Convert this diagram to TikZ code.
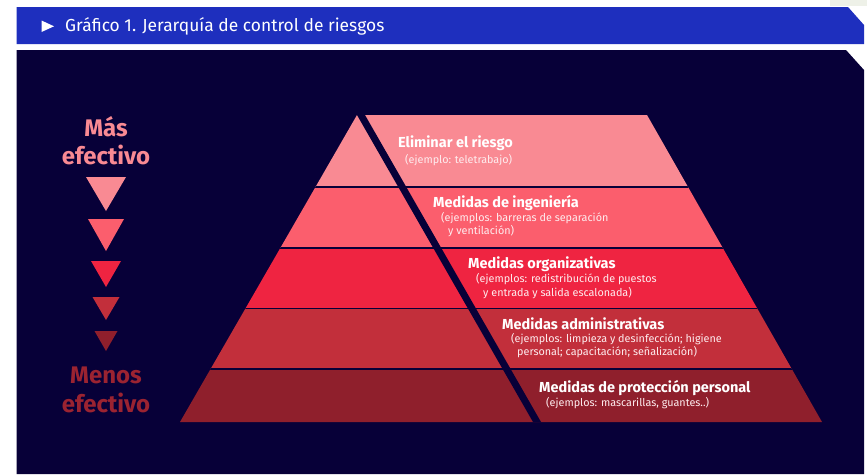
\documentclass[tikz,border=0pt]{standalone}
\usepackage{fontspec}
\setmainfont{Fira Sans}
\definecolor{hdr}{HTML}{1E2FBE}
\definecolor{panel}{HTML}{070038}
\definecolor{bA}{HTML}{F98A93}
\definecolor{bB}{HTML}{FB5E6D}
\definecolor{bC}{HTML}{EF2441}
\definecolor{bD}{HTML}{C22F3B}
\definecolor{bE}{HTML}{8F1F2C}
\definecolor{menos}{HTML}{9B2331}
\definecolor{pagebg}{HTML}{EEF1E8}
\tikzset{
  ttl/.style={font=\bfseries\fontsize{14.5}{17}\selectfont, text=white, anchor=west, inner sep=0pt},
  subt/.style={font=\fontsize{10.8}{13}\selectfont, text=white!85!bA, anchor=west, inner sep=0pt},
  lbl/.style={font=\bfseries\fontsize{24}{28}\selectfont, inner sep=0pt},
  hfont/.style={font=\fontsize{17.4}{20}\selectfont, text=white, anchor=west, inner sep=0pt},
  sepline/.style={draw=panel, line width=1.8pt}
}
\begin{document}
\begin{tikzpicture}[x=1pt,y=-1pt]
\useasboundingbox (0,0) rectangle (867,474);
\fill[white] (0,0) rectangle (867,474);
\fill[pagebg] (830,0) rectangle (867,6);
% header
\fill[hdr] (16.5,7) -- (848,7) -- (864,25) -- (864,44) -- (16.5,44) -- cycle;
\fill[white] (41.5,20.5) -- (54,26.3) -- (41.5,32) -- cycle;
\node[hfont] (title) at (65,26) {Gráfico 1. Jerarquía de control de riesgos};
% panel
\fill[panel] (16.5,50) -- (846,50) -- (864,70) -- (864,474) -- (16.5,474) -- cycle;
% left scale
\node[lbl, text=bA] (mas1) at (106,127) {Más};
\node[lbl, text=bA] (mas2) at (106,155) {efectivo};
\fill[bA] (86,177) -- (126,177) -- (106,211) -- cycle;
\fill[bB] (88,219) -- (124,219) -- (106,251) -- cycle;
\fill[bC] (91,261) -- (121,261) -- (106,287) -- cycle;
\fill[bD] (92.5,297) -- (119.5,297) -- (106,320) -- cycle;
\fill[bE] (94.5,331) -- (117.5,331) -- (106,351) -- cycle;
\node[lbl, text=menos] (men1) at (106,375) {Menos};
\node[lbl, text=menos] (men2) at (106,403) {efectivo};
% pyramid
\begin{scope}
\clip (357,115) -- (647,115) -- (822,422) -- (180,422) -- cycle;
\fill[bA] (170,114) rectangle (830,187);
\fill[bB] (170,187) rectangle (830,248);
\fill[bC] (170,248) rectangle (830,308.5);
\fill[bD] (170,308.5) rectangle (830,369);
\fill[bE] (170,369) rectangle (830,423);
\draw[sepline] (170,187) -- (830,187);
\draw[sepline] (170,248) -- (830,248);
\draw[sepline] (170,308.5) -- (830,308.5);
\draw[sepline] (170,369) -- (830,369);
\end{scope}
\fill[panel] (357,115) -- (365,115) -- (541,422) -- (533,422) -- cycle;
% texts
\node[ttl] (t1) at (398,143) {Eliminar el riesgo};
\node[subt] (s1) at (405,160) {(ejemplo: teletrabajo)};
\node[ttl] (t2) at (433,203) {Medidas de ingeniería};
\node[subt] (s2a) at (441,218) {(ejemplos: barreras de separación};
\node[subt] (s2b) at (448,231) {y ventilación)};
\node[ttl] (t3) at (468,264) {Medidas organizativas};
\node[subt] (s3a) at (476,279) {(ejemplos: redistribución de puestos};
\node[subt] (s3b) at (483,293) {y entrada y salida escalonada)};
\node[ttl] (t4) at (502,324) {Medidas administrativas};
\node[subt] (s4a) at (511,339) {(ejemplos: limpieza y desinfección; higiene};
\node[subt] (s4b) at (517,352) {personal; capacitación; señalización)};
\node[ttl] (t5) at (539,388) {Medidas de protección personal};
\node[subt] (s5) at (546,403) {(ejemplos: mascarillas, guantes..)};
\end{tikzpicture}
\end{document}
